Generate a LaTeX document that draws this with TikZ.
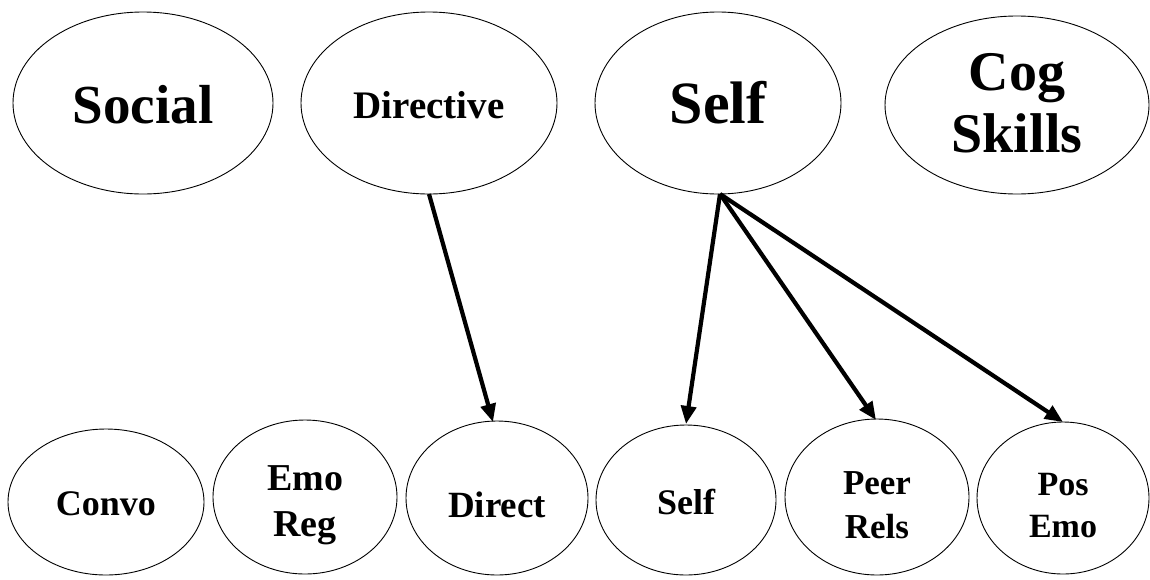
\documentclass[tikz,border=0pt]{standalone}
\usepackage{fontspec}
\setmainfont{Liberation Serif}
\usetikzlibrary{arrows.meta}
\tikzset{
  oval/.style={draw=black, line width=0.9pt, fill=white},
  link/.style={line width=4.2pt, -{Triangle[length=18pt,width=15pt]}},
}
\begin{document}
\begin{tikzpicture}[x=1pt,y=-1pt]
  \useasboundingbox[fill=white] (0,0) rectangle (1150,579);
  % upper row
  \draw[oval] (143,103) ellipse [x radius=130, y radius=91];
  \node[font=\fontsize{55}{55}\bfseries\selectfont] (social) at (143,105) {Social};
  \draw[oval] (429,103) ellipse [x radius=128, y radius=91];
  \node[font=\fontsize{39}{39}\bfseries\selectfont] (directive) at (429,105) {Directive};
  \draw[oval] (718,103) ellipse [x radius=123, y radius=91];
  \node[font=\fontsize{60}{60}\bfseries\selectfont] (selftop) at (718,103) {Self};
  \draw[oval] (1017,105) ellipse [x radius=132, y radius=89];
  \node[font=\fontsize{56}{62}\bfseries\selectfont, align=center] (cog) at (1017,103) {Cog\\Skills};
  % lower row
  \draw[oval] (106,502) ellipse [x radius=98, y radius=73];
  \node[font=\fontsize{36}{36}\bfseries\selectfont] (convo) at (106,504) {Convo};
  \draw[oval] (305,497) ellipse [x radius=92, y radius=77];
  \node[font=\fontsize{38}{46}\bfseries\selectfont, align=center] (emoreg) at (305,505) {Emo\\Reg};
  \draw[oval] (497,498) ellipse [x radius=91, y radius=77];
  \node[font=\fontsize{37}{37}\bfseries\selectfont] (direct) at (497,505) {Direct};
  \draw[oval] (686,500) ellipse [x radius=90, y radius=75];
  \node[font=\fontsize{36}{36}\bfseries\selectfont] (selfbot) at (686,502) {Self};
  \draw[oval] (877,497) ellipse [x radius=92, y radius=78];
  \node[font=\fontsize{35}{44}\bfseries\selectfont, align=center] (peer) at (877,505) {Peer\\Rels};
  \draw[oval] (1063,498) ellipse [x radius=86, y radius=76];
  \node[font=\fontsize{34}{42}\bfseries\selectfont, align=center] (posemo) at (1063,506) {Pos\\Emo};
  % connector anchors on the ellipse rims
  \coordinate (dirOut) at (429,194);
  \coordinate (selfOut) at (720,194);
  \coordinate (directIn) at (493,422);
  \coordinate (selfIn) at (686,424);
  \coordinate (peerIn) at (876,420);
  \coordinate (posIn) at (1063,422);
  \draw[link] (dirOut) -- (directIn);
  \draw[link] (selfOut) -- (selfIn);
  \draw[link] (selfOut) -- (peerIn);
  \draw[link] (selfOut) -- (posIn);
\end{tikzpicture}
\end{document}
